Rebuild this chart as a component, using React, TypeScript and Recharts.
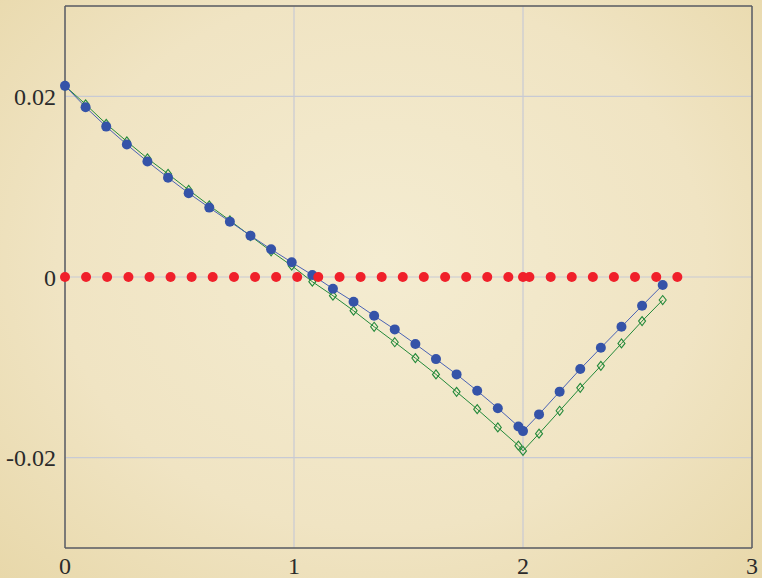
import React from "react"
import { LineChart, Line, XAxis, YAxis, CartesianGrid, ReferenceLine } from "recharts"

// sample times of the two solver runs (event at t = 2)
const timesA = [
  0, 0.09, 0.18, 0.27, 0.36, 0.45, 0.54, 0.63, 0.72, 0.81, 0.9, 0.99, 1.08, 1.17, 1.26, 1.35,
  1.44, 1.53, 1.62, 1.71, 1.8, 1.89, 1.98, 2.0, 2.07, 2.16, 2.25, 2.34, 2.43, 2.52, 2.61,
]
const blueValues = [
  0.02116, 0.0188, 0.01665, 0.01466, 0.01278, 0.011, 0.00928, 0.00768, 0.00613, 0.00458, 0.00307,
  0.00163, 0.00022, -0.0013, -0.00274, -0.00429, -0.0058, -0.00742, -0.00909, -0.01078, -0.0126,
  -0.01452, -0.01654, -0.01706, -0.01521, -0.01269, -0.01019, -0.00783, -0.00551, -0.00318, -0.00089,
]
const greenValues = [
  0.02116, 0.01911, 0.01695, 0.01501, 0.01313, 0.01141, 0.00964, 0.00792, 0.00626, 0.00454, 0.00285,
  0.00125, -0.00052, -0.00207, -0.00373, -0.00551, -0.00722, -0.00898, -0.01078, -0.01271, -0.01463,
  -0.01665, -0.01867, -0.01925, -0.01734, -0.01481, -0.01227, -0.00983, -0.00735, -0.00488, -0.00255,
]
const timesRed = [
  0, 0.092, 0.184, 0.277, 0.369, 0.461, 0.553, 0.645, 0.738, 0.83, 0.922, 1.014, 1.106, 1.199,
  1.291, 1.383, 1.475, 1.567, 1.66, 1.752, 1.844, 1.936, 2.0, 2.028, 2.121, 2.213, 2.305, 2.397,
  2.489, 2.582, 2.674,
]
const redValues = timesRed.map(() => 0)

const xTicks = [0, 1, 2, 3]
const yTicks = [-0.02, 0, 0.02]

const blueData = timesA.map((t, i) => ({ t, v: blueValues[i] }))
const greenData = timesA.map((t, i) => ({ t, v: greenValues[i] }))
const redData = timesRed.map((t, i) => ({ t, v: redValues[i] }))

const tickStyle = { fontSize: 24, fill: "#2b2b2b", fontFamily: "'Liberation Serif', serif" }
const FRAME = "#5c5c5c"
const GREEN = "#23893a"

function Diamond(props: any) {
  const { cx, cy, index } = props
  if (cx == null || cy == null) return <g key={`d-${index}`} />
  return (
    <path
      key={`d-${index}`}
      d={`M${cx},${cy - 4.5} L${cx + 3.5},${cy} L${cx},${cy + 4.5} L${cx - 3.5},${cy} Z`}
      fill="none"
      stroke={GREEN}
      strokeWidth={1.1}
    />
  )
}

export default function App() {
  return (
    <div
      style={{
        position: "absolute",
        left: 0,
        top: 0,
        width: 762,
        height: 578,
        background:
          "radial-gradient(ellipse at 50% 45%, #f4ecd1 0%, #f0e4c3 60%, #e8d8aa 100%)",
      }}
    >
      <LineChart width={762} height={578} margin={{ top: 6, right: 10, left: 0, bottom: 0 }}>
        <CartesianGrid stroke="#c8cad4" strokeWidth={1.2} />
        <XAxis
          type="number"
          dataKey="t"
          domain={[0, 3]}
          ticks={xTicks}
          height={30}
          tick={tickStyle}
          tickLine={false}
          tickSize={6}
          tickMargin={3}
          axisLine={{ stroke: FRAME, strokeWidth: 1.5 }}
          allowDuplicatedCategory={false}
        />
        <YAxis
          type="number"
          domain={[-0.03, 0.03]}
          ticks={yTicks}
          width={65}
          tick={tickStyle}
          tickLine={false}
          tickSize={6}
          tickMargin={3}
          tickFormatter={(v: number) => (v === 0 ? "0" : String(v))}
          axisLine={{ stroke: FRAME, strokeWidth: 1.5 }}
        />
        <ReferenceLine x={3} stroke={FRAME} strokeWidth={1.5} />
        <ReferenceLine y={0.03} stroke={FRAME} strokeWidth={1.5} />
        <Line
          data={greenData}
          dataKey="v"
          type="linear"
          stroke={GREEN}
          strokeWidth={1}
          dot={Diamond}
          activeDot={false}
          isAnimationActive={false}
        />
        <Line
          data={blueData}
          dataKey="v"
          type="linear"
          stroke="#4a62b4"
          strokeWidth={1}
          dot={{ r: 5, fill: "#3553a8", stroke: "none" }}
          activeDot={false}
          isAnimationActive={false}
        />
        <Line
          data={redData}
          dataKey="v"
          type="linear"
          stroke="none"
          dot={{ r: 5, fill: "#f0202a", stroke: "none" }}
          activeDot={false}
          isAnimationActive={false}
        />
      </LineChart>
    </div>
  )
}
